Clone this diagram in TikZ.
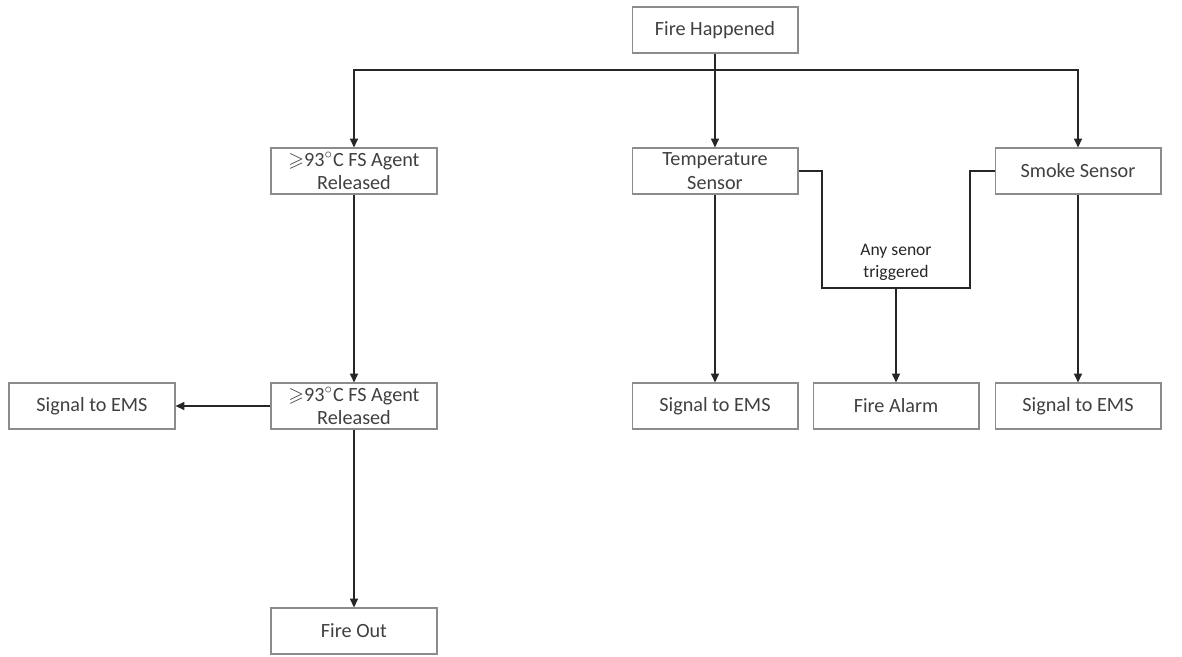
\documentclass[tikz,border=0pt]{standalone}
\usepackage{amssymb}
\usepackage{fontspec}
\setmainfont{Carlito}
\usetikzlibrary{arrows.meta}

\begin{document}
\begin{tikzpicture}[>={Triangle[length=5pt,width=4.5pt]}, x=0.02cm, y=-0.02cm,
    block/.style={draw=black!45, line width=0.6pt, minimum width=3.32cm, minimum height=0.92cm,
        align=center, font=\fontsize{11.5}{13.5}\selectfont, text=black!75, inner sep=1pt},
    link/.style={line width=0.8pt, draw=black!85}]
    \useasboundingbox (0,0) rectangle (1182,656);

    % Boxes of the flow
    \node[block] (fire) at (715,30) {Fire Happened};
    \node[block] (agentA) at (354,171) {$\geqslant$93$^{\circ}$C FS Agent\\Released};
    \node[block] (temp) at (715,171) {Temperature\\Sensor};
    \node[block] (smoke) at (1078,171) {Smoke Sensor};
    \node[block] (emsA) at (92,406) {Signal to EMS};
    \node[block] (agentB) at (354,406) {$\geqslant$93$^{\circ}$C FS Agent\\Released};
    \node[block] (emsB) at (715,406) {Signal to EMS};
    \node[block] (alarm) at (896,406) {Fire Alarm};
    \node[block] (emsC) at (1078,406) {Signal to EMS};
    \node[block] (out) at (354,631) {Fire Out};

    % Split from the fire to the three branches
    \coordinate (split) at (715,70);
    \draw[link] (fire.south) -- (split);
    \draw[link, ->] (split) -| (agentA.north);
    \draw[link, ->] (split) -- (temp.north);
    \draw[link, ->] (split) -| (smoke.north);

    % Agent branch
    \draw[link, ->] (agentA.south) -- (agentB.north);
    \draw[link, ->] (agentB.west) -- (emsA.east);
    \draw[link, ->] (agentB.south) -- (out.north);

    % Sensors to EMS
    \draw[link, ->] (temp.south) -- (emsB.north);
    \draw[link, ->] (smoke.south) -- (emsC.north);

    % Either sensor sets off the alarm
    \coordinate (joinL) at (822,288);
    \coordinate (joinR) at (970,288);
    \coordinate (join) at (896,288);
    \draw[link] (temp.east) -| (joinL) -- (joinR) |- (smoke.west);
    \node[font=\fontsize{10}{12}\selectfont, text=black!85, align=center, above=1pt] (anyLabel) at (join) {Any senor\\triggered};
    \draw[link, ->] (join) -- (alarm.north);
\end{tikzpicture}
\end{document}
